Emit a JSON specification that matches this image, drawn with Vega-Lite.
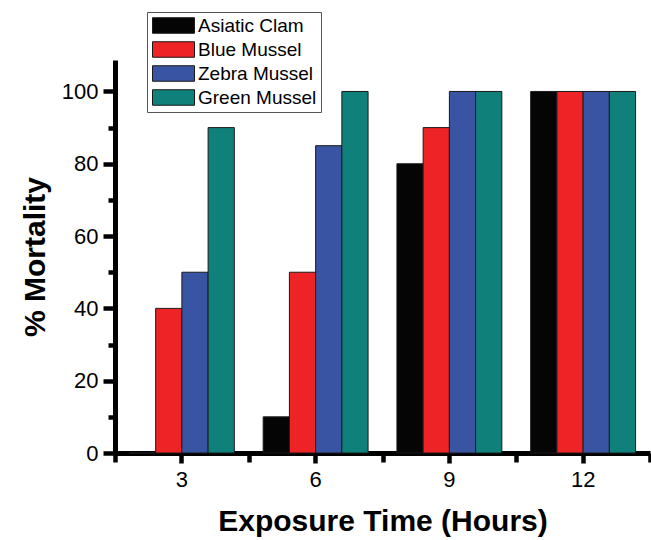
{
  "$schema": "https://vega.github.io/schema/vega-lite/v6.json",
  "width": 535,
  "height": 393,
  "autosize": {"type": "none"},
  "padding": {"left": 115, "top": 60, "right": 1, "bottom": 87},
  "background": "white",
  "config": {
    "view": {"stroke": null},
    "font": "Liberation Sans",
    "axis": {
      "grid": false,
      "domainColor": "black",
      "tickColor": "black",
      "labelColor": "black",
      "titleColor": "black",
      "labelFont": "Liberation Sans",
      "titleFont": "Liberation Sans"
    }
  },
  "data": {
    "values": [
      {"time": 3, "species": "Asiatic Clam", "mortality": 0},
      {"time": 3, "species": "Blue Mussel", "mortality": 40},
      {"time": 3, "species": "Zebra Mussel", "mortality": 50},
      {"time": 3, "species": "Green Mussel", "mortality": 90},
      {"time": 6, "species": "Asiatic Clam", "mortality": 10},
      {"time": 6, "species": "Blue Mussel", "mortality": 50},
      {"time": 6, "species": "Zebra Mussel", "mortality": 85},
      {"time": 6, "species": "Green Mussel", "mortality": 100},
      {"time": 9, "species": "Asiatic Clam", "mortality": 80},
      {"time": 9, "species": "Blue Mussel", "mortality": 90},
      {"time": 9, "species": "Zebra Mussel", "mortality": 100},
      {"time": 9, "species": "Green Mussel", "mortality": 100},
      {"time": 12, "species": "Asiatic Clam", "mortality": 100},
      {"time": 12, "species": "Blue Mussel", "mortality": 100},
      {"time": 12, "species": "Zebra Mussel", "mortality": 100},
      {"time": 12, "species": "Green Mussel", "mortality": 100}
    ]
  },
  "layer": [
    {
      "mark": {"type": "bar", "stroke": "#1a1a1a", "strokeWidth": 1},
      "encoding": {
        "x": {
          "field": "time",
          "type": "ordinal",
          "scale": {"domain": [3, 6, 9, 12], "paddingInner": 0, "paddingOuter": 0},
          "axis": {
            "orient": "bottom",
            "title": "Exposure Time (Hours)",
            "titleFontSize": 30,
            "titleFontWeight": "bold",
            "titleBaseline": "alphabetic",
            "titleY": 77,
            "labelFontSize": 22,
            "labelAngle": 0,
            "labelPadding": 6.5,
            "tickSize": 10,
            "tickWidth": 4.5,
            "domainWidth": 5
          }
        },
        "xOffset": {
          "field": "species",
          "type": "nominal",
          "scale": {
            "domain": ["Asiatic Clam", "Blue Mussel", "Zebra Mussel", "Green Mussel"],
            "paddingInner": 0,
            "paddingOuter": 0.55
          }
        },
        "y": {
          "field": "mortality",
          "type": "quantitative",
          "scale": {"domain": [0, 108.7], "nice": false, "zero": true},
          "axis": {
            "orient": "left",
            "values": [0, 20, 40, 60, 80, 100],
            "title": "% Mortality",
            "titleFontSize": 30,
            "titleFontWeight": "bold",
            "titleBaseline": "alphabetic",
            "titleAngle": 270,
            "titleX": -71,
            "titleY": 196.5,
            "labelFontSize": 22,
            "labelPadding": 5,
            "tickSize": 12,
            "tickWidth": 4.5,
            "domainWidth": 5
          }
        },
        "color": {
          "field": "species",
          "type": "nominal",
          "scale": {
            "domain": ["Asiatic Clam", "Blue Mussel", "Zebra Mussel", "Green Mussel"],
            "range": ["#050505", "#EE2326", "#3A54A4", "#10807B"]
          },
          "legend": {
            "orient": "none",
            "legendX": 32,
            "legendY": -48,
            "title": null,
            "symbolType": "M-2.625,-0.97L2.625,-0.97L2.625,0.97L-2.625,0.97Z",
            "symbolSize": 256,
            "symbolOffset": 13,
            "symbolStrokeColor": "#1a1a1a",
            "symbolStrokeWidth": 1,
            "symbolOpacity": 1,
            "labelFontSize": 19,
            "labelFont": "Liberation Sans",
            "labelColor": "black",
            "labelOffset": 15,
            "labelLimit": 300,
            "padding": 4,
            "rowPadding": 3,
            "strokeColor": "#555555",
            "fillColor": "white"
          }
        }
      }
    },
    {
      "mark": {"type": "bar", "opacity": 0},
      "encoding": {
        "x": {
          "field": "time",
          "type": "ordinal",
          "axis": {
            "orient": "bottom",
            "tickBand": "extent",
            "labels": false,
            "domain": false,
            "title": null,
            "tickSize": 9,
            "tickWidth": 4.5
          }
        },
        "y": {
          "field": "mortality",
          "type": "quantitative",
          "axis": {
            "orient": "left",
            "values": [10, 30, 50, 70, 90],
            "labels": false,
            "domain": false,
            "title": null,
            "tickSize": 7,
            "tickWidth": 4.5
          }
        }
      }
    }
  ],
  "resolve": {"axis": {"x": "independent", "y": "independent"}}
}
